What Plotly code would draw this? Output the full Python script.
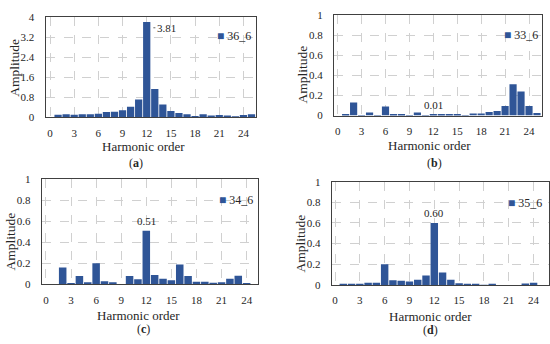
import plotly.graph_objects as go

# ---------------- data ----------------
harmonic_order = list(range(26))
amp_36_6 = [0, 0.11, 0.13, 0.11, 0.13, 0.13, 0.15, 0.22, 0.23, 0.29, 0.43, 0.72, 3.81,
            1.14, 0.52, 0.26, 0.18, 0.13, 0.06, 0.13, 0.08, 0.10, 0.08, 0.04, 0.10, 0.13]
amp_33_6 = [0, 0.01, 0.13, 0.003, 0.03, 0.005, 0.09, 0.01, 0.007, 0.005, 0.03, 0.003, 0.01,
            0.01, 0.01, 0.01, 0.003, 0.02, 0.02, 0.035, 0.045, 0.095, 0.31, 0.24, 0.095, 0.025]
amp_34_6 = [0, 0, 0.16, 0.01, 0.08, 0.02, 0.20, 0.03, 0.02, 0, 0.08, 0.05, 0.51,
            0.09, 0.055, 0.04, 0.19, 0.08, 0.025, 0.025, 0.015, 0.02, 0.055, 0.083, 0.006, 0]
amp_35_6 = [0, 0.01, 0.01, 0.01, 0.02, 0.02, 0.20, 0.045, 0.04, 0.033, 0.05, 0.09, 0.60,
            0.12, 0.05, 0.016, 0.003, 0.01, 0.002, 0.01, 0, 0, 0, 0.013, 0.02, 0]

series_names = ["36_6", "33_6", "34_6", "35_6"]
panel_labels = ["a", "b", "c", "d"]
peak_labels = ["3.81", "0.01", "0.51", "0.60"]
peak_index = 12
x_ticks = list(range(0, 25, 3))
y_ticks_a = [0, 0.8, 1.6, 2.4, 3.2, 4]
y_ticks_b = [0, 0.2, 0.4, 0.6, 0.8, 1]

# ---------------- layout helpers ----------------
W, H = 550, 344
BAR = "#2F5597"
FONT = "Liberation Serif"
TXT = "#262626"


def px_x(p):
    return p / W


def px_y(p):
    return 1 - p / H


# plot-area pixel boxes (left, right, top, bottom) and x ranges
panels = [
    dict(box=(45.5, 256, 11.7, 115.5), xr=[-0.56, 25.56], yr=[0, 4], yt=y_ticks_a, vals=amp_36_6,
         ytitle=(15, 64), xtitle=(143, 146), cap=(136, 163), leg=(215, 31)),
    dict(box=(334, 542, 9.3, 113.5), xr=[-0.46, 25.63], yr=[0, 1], yt=y_ticks_b, vals=amp_33_6,
         ytitle=(303, 71), xtitle=(429, 145), cap=(434, 163), leg=(502, 30)),
    dict(box=(41.7, 258, 179.3, 288.5), xr=[-0.51, 25.36], yr=[0, 1], yt=y_ticks_b, vals=amp_34_6,
         ytitle=(10, 244), xtitle=(138, 321), cap=(143, 335), leg=(217, 201)),
    dict(box=(331.7, 549.3, 182, 289), xr=[-0.4, 25.9], yr=[0, 1], yt=y_ticks_b, vals=amp_35_6,
         ytitle=(300, 246), xtitle=(430, 322), cap=(430, 336), leg=(506, 204)),
]

fig = go.Figure()
annotations = []

for i, p in enumerate(panels):
    n = "" if i == 0 else str(i + 1)
    xa, ya = "x" + n, "y" + n
    fig.add_trace(go.Bar(
        x=harmonic_order, y=p["vals"], name=series_names[i],
        xaxis=xa, yaxis=ya, marker=dict(color=BAR, line=dict(width=0)),
        showlegend=False,
    ))
    l, r, t, b = p["box"]
    axis_common = dict(
        showline=True, mirror=True, linecolor="#404040", linewidth=1,
        showgrid=True, gridcolor="#d0d0d0", griddash="dash", gridwidth=1,
        zeroline=False, ticks="outside", tickcolor="rgba(0,0,0,0)",
        tickfont=dict(family=FONT, size=11, color=TXT),
    )
    fig.layout["xaxis" + n] = dict(
        axis_common, domain=[px_x(l), px_x(r)], range=p["xr"], anchor=ya,
        tickmode="array", tickvals=x_ticks, ticklen=5,
    )
    fig.layout["yaxis" + n] = dict(
        axis_common, domain=[px_y(b), px_y(t)], range=p["yr"], anchor=xa,
        tickmode="array", tickvals=p["yt"], ticktext=[f"{v:g}" for v in p["yt"]], ticklen=8,
    )
    # axis titles
    annotations.append(dict(
        text="Amplitude", x=px_x(p["ytitle"][0]), y=px_y(p["ytitle"][1]), xref="paper", yref="paper",
        textangle=-90, showarrow=False, font=dict(family=FONT, size=13.5, color=TXT),
        xanchor="center", yanchor="middle"))
    annotations.append(dict(
        text="Harmonic order", x=px_x(p["xtitle"][0]), y=px_y(p["xtitle"][1]), xref="paper", yref="paper",
        showarrow=False, font=dict(family=FONT, size=13, color=TXT), xanchor="center", yanchor="middle"))
    annotations.append(dict(
        text=f"(<b>{panel_labels[i]}</b>)", x=px_x(p["cap"][0]), y=px_y(p["cap"][1]),
        xref="paper", yref="paper", showarrow=False,
        font=dict(family=FONT, size=12, color=TXT), xanchor="center", yanchor="middle"))
    # legend-like key
    annotations.append(dict(
        text=f"<span style='color:{BAR}'>■</span> {series_names[i]}", x=px_x(p["leg"][0]),
        y=px_y(p["leg"][1]), xref="paper", yref="paper", showarrow=False,
        font=dict(family=FONT, size=12, color=TXT), xanchor="left", yanchor="middle"))
    # peak data label
    if i == 0:
        annotations.append(dict(
            text=peak_labels[i], x=harmonic_order[peak_index] + 0.45, y=p["vals"][peak_index] * 0.94,
            xref=xa, yref=ya, showarrow=True, arrowhead=0, arrowwidth=0.8, arrowcolor="#404040",
            ax=16, ay=0, standoff=3, font=dict(family=FONT, size=11, color=TXT)))
    else:
        annotations.append(dict(
            text=peak_labels[i], x=harmonic_order[peak_index], y=p["vals"][peak_index],
            xref=xa, yref=ya, showarrow=False, yanchor="bottom", yshift=2,
            font=dict(family=FONT, size=11, color=TXT)))

fig.update_layout(
    width=W, height=H, margin=dict(l=0, r=0, t=0, b=0),
    paper_bgcolor="white", plot_bgcolor="white",
    bargap=0.1, annotations=annotations,
)

fig.write_html("out.html", config={"displayModeBar": False},
               post_script="document.body.style.margin='0';")
